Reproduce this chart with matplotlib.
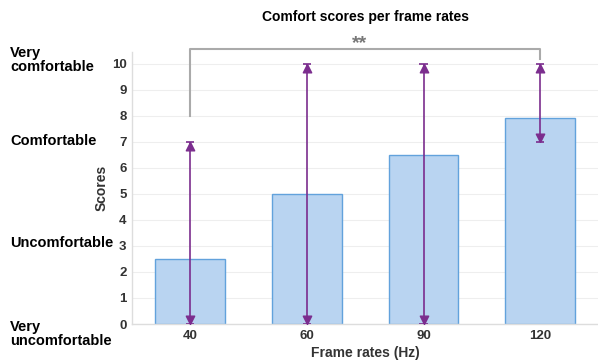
import numpy as np
import matplotlib
matplotlib.use("Agg")
import matplotlib.pyplot as plt
import matplotlib.transforms as mtransforms

plt.rcParams['font.family'] = ['Liberation Sans', 'DejaVu Sans']

# data
frame_rates = ["40", "60", "90", "120"]
scores = [2.5, 5.0, 6.5, 7.9]
err_low = [0, 0, 0, 7]
err_high = [7, 10, 10, 10]
comfort_labels = ["Very\ncomfortable", "Comfortable", "Uncomfortable", "Very\nuncomfortable"]
comfort_levels = [10.15, 7.05, 3.1, -0.38]

purple = '#7B2D8E'
x = np.arange(len(frame_rates))

fig = plt.figure(figsize=(5.98, 3.63), dpi=100)
ax = fig.add_axes([0.2207, 0.1074, 0.78, 0.75])

ax.bar(x, scores, width=0.6, color='#B9D4F1', edgecolor='#62A2DC', linewidth=1, zorder=2)

# error ranges
lo = np.array(err_low)
hi = np.array(err_high)
ax.vlines(x, lo, hi, color=purple, linewidth=1.2, zorder=3)
ax.hlines(lo, x - 0.035, x + 0.035, color=purple, linewidth=1.2, zorder=3)
ax.hlines(hi, x - 0.035, x + 0.035, color=purple, linewidth=1.2, zorder=3)
up_tri = [(0, 0), (-0.5, -1), (0.5, -1), (0, 0)]
down_tri = [(0, 0), (-0.5, 1), (0.5, 1), (0, 0)]
ax.plot(x, hi, linestyle='none', marker=up_tri, markersize=12, color=purple, zorder=4)
ax.plot(x, lo, linestyle='none', marker=down_tri, markersize=12, color=purple, zorder=4)

ax.set_xlim(-0.5, 3.5)
ax.set_ylim(0, 10.46)
ax.set_xticks(x)
ax.set_xticklabels(frame_rates)
ax.set_yticks(range(11))
ax.tick_params(length=0, labelsize=9.5, colors='#333333', pad=4)
for lab in ax.get_xticklabels() + ax.get_yticklabels():
    lab.set_fontweight('bold')
ax.yaxis.grid(True, color='#EEEEEE', linewidth=0.8, zorder=0)
ax.set_axisbelow(True)
for s in ['top', 'right']:
    ax.spines[s].set_visible(False)
for s in ['left', 'bottom']:
    ax.spines[s].set_color('#DDDDDD')
    ax.spines[s].set_linewidth(1)

ax.set_xlabel("Frame rates (Hz)", fontsize=10, fontweight='bold', color='#333333', labelpad=3)
ax.set_ylabel("Scores", fontsize=10, fontweight='bold', color='#333333', labelpad=2)
ax.set_title("Comfort scores per frame rates", fontsize=10, fontweight='bold', pad=22)

# significance bracket
ax.plot([0, 0, 3, 3], [8.0, 10.55, 10.55, 10.2], color='#AAAAAA', linewidth=1.5, clip_on=False, zorder=1)
ax.text(1.45, 10.45, "**", ha='center', va='bottom', fontsize=14, fontweight='bold', color='#777777')

# comfort scale labels
lab_trans = mtransforms.blended_transform_factory(fig.transFigure, ax.transData)
for lab, lev in zip(comfort_labels, comfort_levels):
    ax.text(0.017, lev, lab, transform=lab_trans, ha='left', va='center',
            fontsize=10.5, fontweight='bold', linespacing=1.05)

fig.savefig("out.png", dpi=100)
